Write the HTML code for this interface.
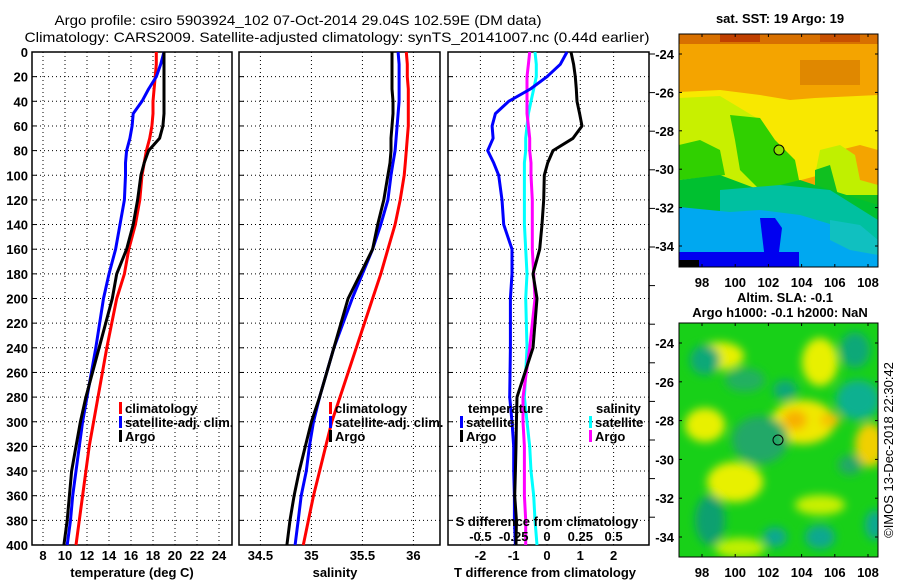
<!DOCTYPE html>
<html><head><meta charset="utf-8"><style>
body{margin:0;background:#fff;}
svg{display:block;font-family:"Liberation Sans",sans-serif;}
.t{font-size:13px;font-weight:bold;fill:#000;}
.g{stroke:#000;stroke-width:1;stroke-dasharray:1,3;}
</style></head><body>
<svg id="c" width="900" height="580" viewBox="0 0 900 580" xmlns="http://www.w3.org/2000/svg">
<defs>
<filter id="bl" x="-30%" y="-30%" width="160%" height="160%"><feGaussianBlur stdDeviation="4.5"/></filter>
<clipPath id="cm1"><rect x="679" y="34" width="199" height="233"/></clipPath>
<clipPath id="cm2"><rect x="679" y="323" width="199" height="234"/></clipPath>
</defs>
<text x="298" y="25" text-anchor="middle" font-size="14" textLength="487" lengthAdjust="spacingAndGlyphs">Argo profile: csiro 5903924_102 07-Oct-2014 29.04S 102.59E (DM data)</text>
<text x="337" y="42" text-anchor="middle" font-size="14" textLength="625" lengthAdjust="spacingAndGlyphs">Climatology: CARS2009. Satellite-adjusted climatology: synTS_20141007.nc (0.44d earlier)</text>

<g id="p1"></g>
<g id="p2"></g>
<g id="p3"></g>

<g>
<text x="780" y="23" text-anchor="middle" class="t">sat. SST: 19 Argo: 19</text>
<g clip-path="url(#cm1)">
<rect x="679" y="34" width="199" height="233" fill="#f4a400"/>
<rect x="679" y="34" width="199" height="10" fill="#d87000"/>
<rect x="720" y="34" width="40" height="8" fill="#c04000"/>
<rect x="820" y="34" width="40" height="8" fill="#c85000"/>
<rect x="800" y="60" width="60" height="25" fill="#e08800"/>
<polygon points="679,92 720,90 760,95 790,100 815,98 878,95 878,150 860,145 840,150 820,175 790,183 775,185 679,180" fill="#f8e800"/>
<polygon points="679,98 720,96 760,120 775,150 790,170 800,185 790,195 679,195" fill="#c8f000"/>
<polygon points="730,115 760,118 775,140 795,160 800,185 760,190 740,170 735,140" fill="#30d000"/>
<polygon points="679,145 700,140 720,150 725,175 679,180" fill="#30d000"/>
<polygon points="820,150 840,145 855,155 860,180 878,185 878,205 820,200 815,175" fill="#c0f000"/>
<polygon points="815,170 830,165 838,195 878,195 878,210 815,210" fill="#10c020"/>
<polygon points="679,180 720,175 760,190 800,180 815,185 878,205 878,225 679,225" fill="#00c030"/>
<polygon points="720,190 780,185 830,190 878,220 878,240 720,230" fill="#00c0a0"/>
<polygon points="679,207 730,212 760,210 800,215 850,230 878,245 878,267 679,267" fill="#00a8f0"/>
<polygon points="830,220 860,225 878,240 878,255 850,250 830,240" fill="#10c0c0"/>
<polygon points="760,218 775,218 782,228 778,260 765,260" fill="#0000f0"/>
<rect x="679" y="252" width="120" height="15" fill="#0000f0"/>
<rect x="679" y="260" width="20" height="7" fill="#000"/>
<circle cx="779" cy="150" r="5" fill="#8ce000" stroke="#000" stroke-width="1"/>
</g>
<rect x="679" y="34" width="199" height="233" fill="none" stroke="#000"/>
<g id="m1t"></g>
</g>

<g>
<text x="785" y="302" text-anchor="middle" class="t">Altim. SLA: -0.1</text>
<text x="780" y="317" text-anchor="middle" class="t">Argo h1000: -0.1 h2000: NaN</text>
<g clip-path="url(#cm2)">
<rect x="679" y="323" width="199" height="234" fill="#18d018"/>
<g filter="url(#bl)">
<ellipse cx="720" cy="356" rx="24" ry="14" fill="#e8f000"/>
<ellipse cx="820" cy="362" rx="18" ry="24" fill="#e8f000"/>
<ellipse cx="705" cy="425" rx="20" ry="17" fill="#e8f000"/>
<ellipse cx="803" cy="422" rx="32" ry="22" fill="#f0e800"/>
<ellipse cx="795" cy="420" rx="12" ry="10" fill="#f8b000"/>
<ellipse cx="830" cy="420" rx="10" ry="7" fill="#f8c000"/>
<ellipse cx="870" cy="445" rx="15" ry="22" fill="#f0d000"/>
<ellipse cx="735" cy="482" rx="28" ry="20" fill="#e8f000"/>
<ellipse cx="820" cy="505" rx="25" ry="10" fill="#c8f000"/>
<ellipse cx="740" cy="548" rx="25" ry="10" fill="#c0f000"/>
<ellipse cx="705" cy="360" rx="15" ry="15" fill="#10a878"/>
<ellipse cx="855" cy="350" rx="15" ry="18" fill="#10a878"/>
<ellipse cx="858" cy="400" rx="22" ry="20" fill="#10b090"/>
<ellipse cx="785" cy="390" rx="12" ry="10" fill="#10a878"/>
<ellipse cx="760" cy="440" rx="28" ry="24" fill="#20a868"/>
<ellipse cx="745" cy="380" rx="20" ry="12" fill="#20b060"/>
<ellipse cx="710" cy="520" rx="15" ry="25" fill="#10a070"/>
<ellipse cx="775" cy="537" rx="12" ry="10" fill="#10a890"/>
<ellipse cx="820" cy="537" rx="15" ry="12" fill="#10a890"/>
<ellipse cx="875" cy="525" rx="10" ry="15" fill="#10a890"/>
<ellipse cx="850" cy="465" rx="12" ry="10" fill="#20a868"/>
</g>
<circle cx="778" cy="440" r="5" fill="none" stroke="#000" stroke-width="1"/>
</g>
<rect x="679" y="323" width="199" height="234" fill="none" stroke="#000"/>
<g id="m2t"></g>
</g>
<text transform="translate(893,450) rotate(-90)" text-anchor="middle" font-size="13">©IMOS 13-Dec-2018 22:30:42</text>
</svg>
<script>
const depthTicks=[0,20,40,60,80,100,120,140,160,180,200,220,240,260,280,300,320,340,360,380,400];
const depths=[0,10,20,30,40,50,60,70,80,90,100,120,140,160,180,200,240,280,300,320,340,360,380,400];
const tempTicks=[8,10,12,14,16,18,20,22,24];
const tempArgo=[19.0,19.0,19.0,19.0,19.0,19.0,18.9,18.6,17.6,17.2,16.9,16.6,16.2,15.6,14.7,14.3,13.1,11.9,11.4,11.0,10.6,10.4,10.2,9.9];
const tempClim=[18.3,18.3,18.2,18.1,18.0,18.0,17.9,17.7,17.4,17.2,17.0,16.8,16.4,15.8,15.4,14.7,13.8,13.0,12.6,12.2,11.9,11.6,11.3,11.0];
const tempSat=[19.0,18.7,18.3,17.6,17.0,16.2,16.1,15.9,15.6,15.5,15.5,15.4,15.0,14.6,14.0,13.5,12.8,12.0,11.6,11.3,11.0,10.7,10.5,10.2];
const salTicks=[34.5,35,35.5,36];
const salTickLabels=["34.5","35","35.5","36"];
const salArgo=[35.79,35.79,35.79,35.79,35.80,35.80,35.79,35.78,35.78,35.77,35.75,35.71,35.65,35.60,35.48,35.36,35.22,35.08,35.00,34.94,34.88,34.83,34.79,34.76];
const salClim=[35.93,35.94,35.94,35.95,35.95,35.95,35.95,35.94,35.93,35.92,35.91,35.87,35.82,35.75,35.68,35.60,35.44,35.28,35.20,35.14,35.08,35.02,34.97,34.92];
const salSat=[35.85,35.86,35.86,35.86,35.86,35.85,35.84,35.83,35.82,35.80,35.78,35.75,35.68,35.60,35.50,35.40,35.22,35.08,35.02,34.98,34.95,34.90,34.87,34.84];
const dTicks=[-2,-1,0,1,2];
const sTicks=[-0.5,-0.25,0,0.25,0.5];
const sTickLabels=["-0.5","-0.25","0","0.25","0.5"];
const dTArgo=[0.72,0.8,0.85,0.88,0.9,0.98,1.05,0.78,0.18,0.02,-0.08,-0.1,-0.15,-0.22,-0.42,-0.3,-0.42,-0.9,-0.92,-0.93,-0.95,-0.97,-0.92,-0.93];
const dTSat=[0.6,0.4,0.0,-0.5,-1.15,-1.55,-1.65,-1.62,-1.78,-1.6,-1.45,-1.35,-1.3,-1.05,-1.05,-1.1,-1.1,-1.12,-1.05,-1.0,-1.0,-0.98,-0.98,-0.95];
const dSArgo=[-0.13,-0.14,-0.15,-0.15,-0.15,-0.15,-0.14,-0.13,-0.13,-0.12,-0.12,-0.11,-0.11,-0.11,-0.10,-0.09,-0.13,-0.18,-0.18,-0.17,-0.17,-0.17,-0.16,-0.16];
const dSSat=[-0.09,-0.08,-0.08,-0.10,-0.12,-0.14,-0.15,-0.16,-0.16,-0.17,-0.17,-0.17,-0.17,-0.16,-0.15,-0.16,-0.15,-0.17,-0.15,-0.13,-0.12,-0.10,-0.09,-0.075];
const lonTicks=[98,100,102,104,106,108];
const latTicks=[-24,-26,-28,-30,-32,-34];

const NS="http://www.w3.org/2000/svg";
function mk(parent,tag,attrs,text){const e=document.createElementNS(NS,tag);for(const k in attrs)e.setAttribute(k,attrs[k]);if(text!==undefined)e.textContent=text;parent.appendChild(e);return e;}
const Y0=52,Y1=545;
const yD=d=>Y0+(d/400)*(Y1-Y0);

function panel(g,x0,x1,xs,ticks,labels,showDepth){
  for(let i=0;i<ticks.length;i++){
    const x=xs(ticks[i]);
    const l=mk(g,'line',{x1:x,x2:x,y1:Y0,y2:Y1,class:'g'});
    
    
    const t=mk(g,'text',{x:x,y:560,'text-anchor':'middle',class:'t'},labels[i]);
    
    
  }
  for(const d of depthTicks){
    const y=yD(d);
    if(d>0&&d<400){const l=mk(g,'line',{x1:x0,x2:x1,y1:y,y2:y,class:'g'});
      
      }
    mk(g,'line',{x1:x0,x2:x0+5,y1:y,y2:y,stroke:'#000'});
    if(showDepth){const t=mk(g,'text',{x:x0-4,y:y+5,'text-anchor':'end',class:'t'},String(d));
      
      }
  }
  const r=mk(g,'rect',{x:x0,y:Y0,width:x1-x0,height:Y1-Y0,fill:'none',stroke:'#000','stroke-width':1.5});
  
  
}
function line(g,vals,xs,color,name){
  const pts=vals.map((v,i)=>xs(v).toFixed(1)+','+yD(depths[i]).toFixed(1)).join(' ');
  const p=mk(g,'polyline',{points:pts,fill:'none',stroke:color,'stroke-width':3,'stroke-linejoin':'round'});
  
  
}
function legend(g,x,y,color,label){
  mk(g,'rect',{x:x,y:y-11,width:3,height:12,fill:color});
  const t=mk(g,'text',{x:x+6,y:y,class:'t'},label);
  
  
}

const p1=document.getElementById('p1');
const xT=v=>32+(v-7)*11;
panel(p1,32,232,xT,tempTicks,tempTicks.map(String),true);
line(p1,tempClim,xT,'#f00','climatology-temp-line');
line(p1,tempSat,xT,'#00f','satellite-temp-line');
line(p1,tempArgo,xT,'#000','argo-temp-line');
legend(p1,119,413,'#f00','climatology');
legend(p1,119,427,'#00f','satellite-adj. clim.');
legend(p1,119,441,'#000','Argo');
const x1l=mk(p1,'text',{x:132,y:577,'text-anchor':'middle',class:'t'},'temperature (deg C)');



const p2=document.getElementById('p2');
const xS=v=>239+(v-34.29)*102;
panel(p2,239,440,xS,salTicks,salTickLabels,false);
line(p2,salClim,xS,'#f00','climatology-salinity-line');
line(p2,salSat,xS,'#00f','satellite-salinity-line');
line(p2,salArgo,xS,'#000','argo-salinity-line');
legend(p2,329,413,'#f00','climatology');
legend(p2,329,427,'#00f','satellite-adj. clim.');
legend(p2,329,441,'#000','Argo');
const x2l=mk(p2,'text',{x:335,y:577,'text-anchor':'middle',class:'t'},'salinity');



const p3=document.getElementById('p3');
const xD=v=>547+v*33.3;
const xSd=v=>547+v*133.2;
panel(p3,448,649,xD,dTicks,dTicks.map(String),false);
for(let y=54;y<Y1;y+=38.6){mk(p3,'line',{x1:649,x2:655,y1:y,y2:y,stroke:'#000'});}
line(p3,dSSat,xSd,'#0ff','satellite-salinity-diff-line');
line(p3,dSArgo,xSd,'#f0f','argo-salinity-diff-line');
line(p3,dTSat,xD,'#00f','satellite-temp-diff-line');
line(p3,dTArgo,xD,'#000','argo-temp-diff-line');
const lt=mk(p3,'text',{x:468,y:413,class:'t'},'temperature');


legend(p3,460,427,'#00f','satellite');
legend(p3,460,441,'#000','Argo');
const ls=mk(p3,'text',{x:596,y:413,class:'t'},'salinity');


legend(p3,589,427,'#0ff','satellite');
legend(p3,589,441,'#f0f','Argo');
const st=mk(p3,'text',{x:547,y:526,'text-anchor':'middle',class:'t'},'S difference from climatology');


for(let i=0;i<sTicks.length;i++){
  const t=mk(p3,'text',{x:xSd(sTicks[i]),y:541,'text-anchor':'middle',class:'t'},sTickLabels[i]);
  
  
}
const x3l=mk(p3,'text',{x:545,y:577,'text-anchor':'middle',class:'t'},'T difference from climatology');



function mapTicks(id,yTop,yBot,latY,lblY){
  const g=document.getElementById(id);
  const lonX=v=>702+(v-98)*16.6;
  for(const v of lonTicks){
    const x=lonX(v);
    mk(g,'line',{x1:x,x2:x,y1:yTop,y2:yTop+3,stroke:'#000'});
    mk(g,'line',{x1:x,x2:x,y1:yBot,y2:yBot-3,stroke:'#000'});
    const t=mk(g,'text',{x:x,y:lblY,'text-anchor':'middle',class:'t'},String(v));
    
    
  }
  for(const v of latTicks){
    const y=latY(v);
    mk(g,'line',{x1:679,x2:682,y1:y,y2:y,stroke:'#000'});
    mk(g,'line',{x1:878,x2:875,y1:y,y2:y,stroke:'#000'});
    const t=mk(g,'text',{x:674,y:y+5,'text-anchor':'end',class:'t'},String(v));
    
    
  }
}
mapTicks('m1t',34,267,v=>54+(-24-v)*19.2,287);
mapTicks('m2t',323,557,v=>343+(-24-v)*19.4,577);
</script>
</body></html>
